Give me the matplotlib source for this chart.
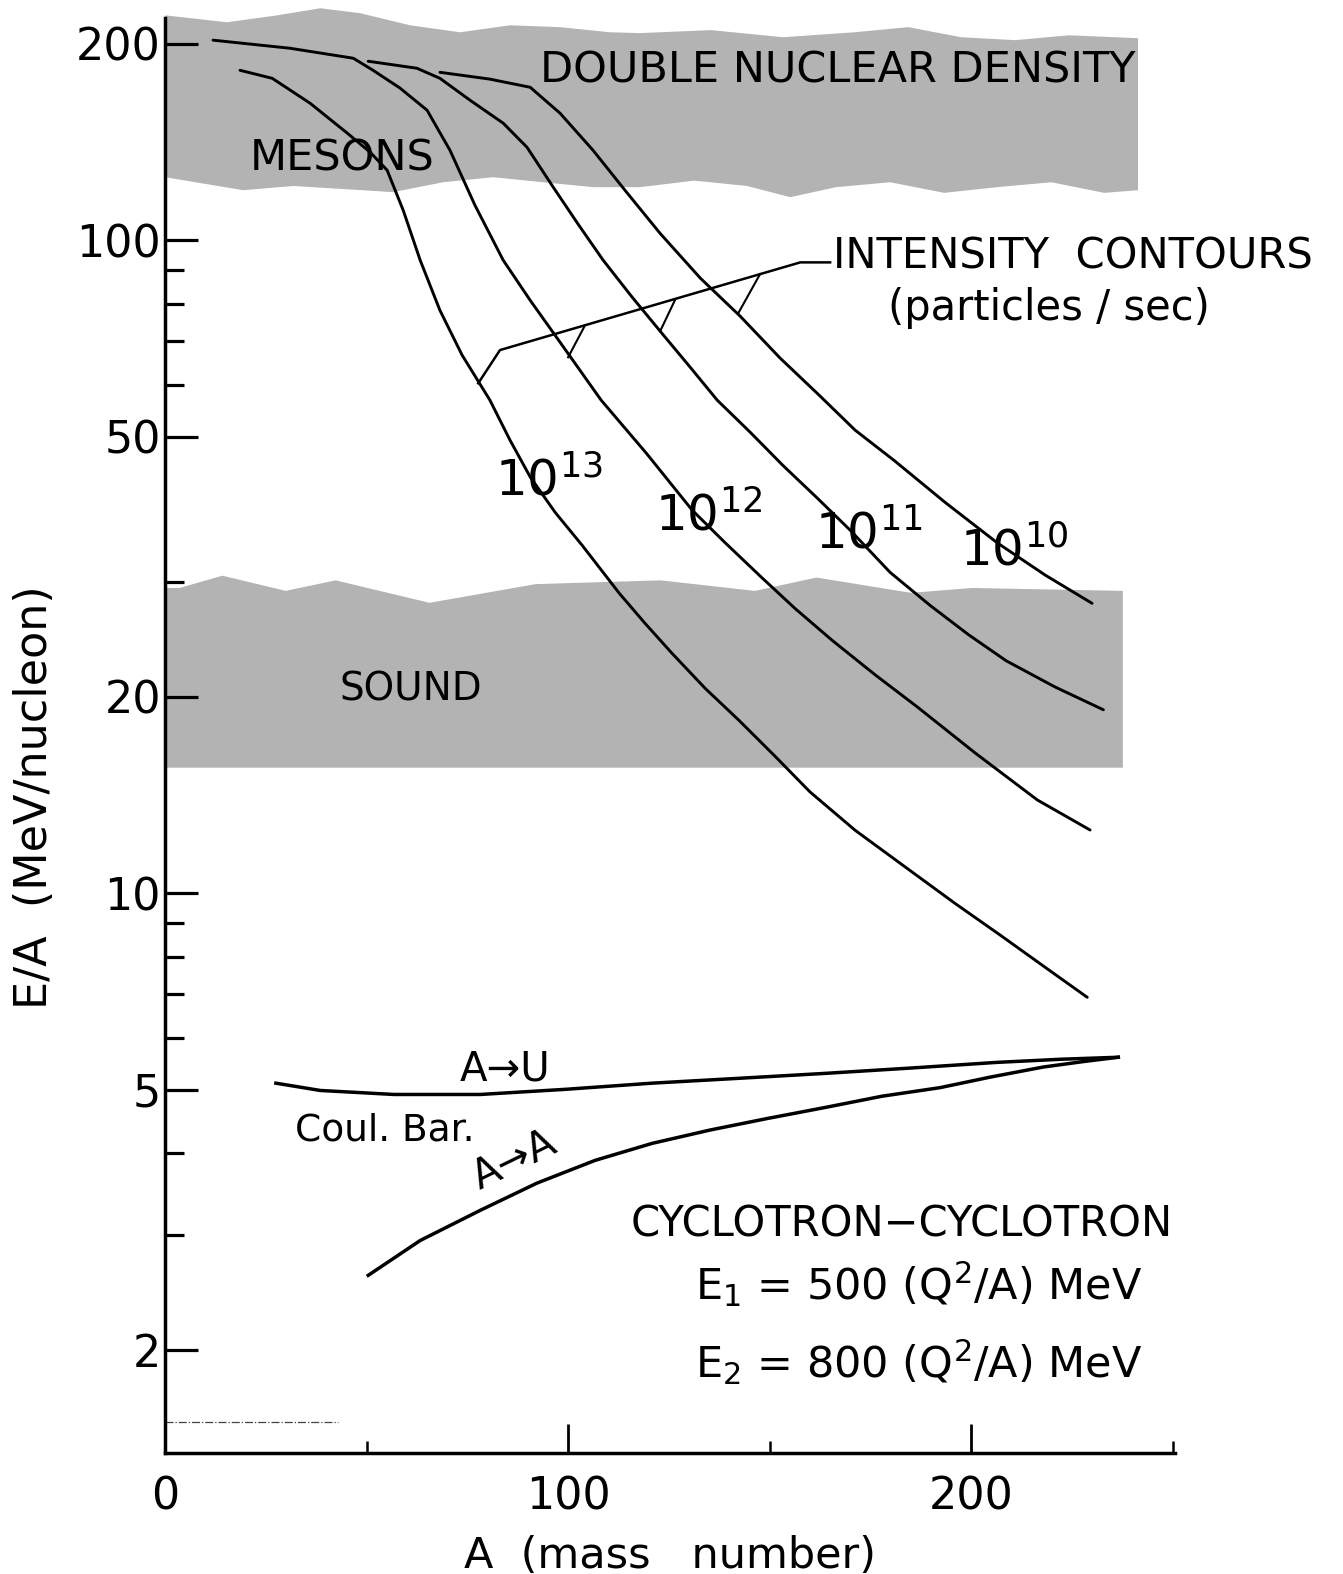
import matplotlib

matplotlib.use("Agg")
import matplotlib.pyplot as plt

plt.rcParams["font.family"] = ["DejaVu Sans"]
plt.rcParams["mathtext.fontset"] = "dejavusans"

# intensity contours, A (mass number) vs E/A (MeV/nucleon)
C13_A = [18.6, 26.6, 36.0, 45.2, 50.9, 55.1, 59.1, 63.3, 68.2, 73.7, 80.6, 85.6, 90.6, 96.8, 103.5,
         112.7, 119.1, 125.8, 134.0, 142.4, 151.4, 160.0, 171.2, 184.1, 196.0, 207.2, 218.4, 228.8]
C13_E = [182.1, 177.0, 162.1, 145.9, 136.4, 128.0, 111.1, 93.2, 78.1, 66.7, 56.9, 49.4, 43.4, 38.3, 34.1,
         28.8, 25.9, 23.3, 20.6, 18.4, 16.2, 14.3, 12.49, 10.92, 9.65, 8.63, 7.70, 6.93]

C12_A = [11.9, 31.0, 46.7, 51.6, 58.3, 65.0, 70.7, 76.9, 83.9, 90.6, 98.0, 108.2, 119.4, 130.8, 139.0,
         147.9, 156.3, 165.5, 176.2, 186.6, 201.0, 216.4, 229.5]
C12_E = [202.5, 196.8, 190.0, 182.1, 171.0, 158.2, 137.3, 113.1, 93.2, 80.9, 69.8, 56.9, 47.2, 38.6, 34.4,
         30.5, 27.3, 24.4, 21.6, 19.3, 16.4, 13.9, 12.5]

C11_A = [50.4, 62.5, 68.2, 75.7, 83.9, 89.8, 96.3, 102.5, 108.7, 115.9, 123.3, 130.3, 137.0, 145.2, 153.3,
         161.8, 170.0, 179.9, 189.8, 199.3, 208.7, 220.8, 232.8]
C11_E = [188.0, 183.4, 177.0, 163.8, 151.1, 138.8, 120.6, 105.8, 93.2, 81.8, 72.0, 63.9, 56.9, 50.8, 45.2,
         40.3, 35.97, 31.0, 27.6, 24.9, 22.7, 20.7, 19.1]

C10_A = [68.2, 80.6, 90.6, 98.0, 106.2, 114.1, 122.8, 132.8, 142.7, 152.6, 162.3, 171.2, 180.9, 193.5,
         206.5, 218.4, 230.0]
C10_E = [180.8, 176.5, 171.5, 156.5, 137.3, 119.3, 102.5, 87.5, 76.5, 66.0, 57.9, 51.2, 46.0, 39.7,
         34.4, 30.7, 27.8]

CONTOURS = [
    (C13_A, C13_E, "13", 81.9, 40.7),
    (C12_A, C12_E, "12", 121.6, 35.97),
    (C11_A, C11_E, "11", 161.3, 33.75),
    (C10_A, C10_E, "10", 197.3, 31.8),
]

# Coulomb barrier
AU_A = [27.5, 38.5, 56.8, 78.2, 99.3, 120.8, 142.7, 163.8, 184.9, 206.5, 222.1, 236.5]
AU_E = [5.12, 4.99, 4.92, 4.92, 5.01, 5.12, 5.21, 5.30, 5.40, 5.51, 5.57, 5.61]
AA_A = [50.4, 63.3, 78.2, 92.3, 106.7, 120.8, 135.2, 149.4, 163.8, 177.9, 192.3, 204.7, 217.9, 228.3, 236.5]
AA_E = [2.60, 2.94, 3.27, 3.60, 3.90, 4.14, 4.34, 4.52, 4.70, 4.89, 5.04, 5.23, 5.42, 5.53, 5.61]

# shaded regions
DND_TOP_A = [0, 15.4, 27.8, 38.5, 48.4, 60.8, 73.2, 85.6, 98.0, 110.4, 117.9, 135.5, 153.3, 171.0,
             184.4, 197.5, 210.9, 224.3, 241.4]
DND_TOP_E = [221, 215.7, 221, 226.6, 222.7, 213.4, 208.2, 213.4, 212.0, 208.2, 207.6, 209.8, 204.6,
             208.2, 212.0, 204.6, 202.5, 206.0, 203.9]
DND_BOT_A = [0, 19.4, 31.8, 56.6, 69.0, 81.4, 93.8, 106.2, 117.9, 131.3, 144.4, 155.1, 166.5, 179.9,
             193.3, 206.5, 219.9, 233.0, 241.4]
DND_BOT_E = [124.9, 119.3, 121.1, 118.5, 122.7, 124.9, 122.7, 120.6, 120.6, 123.4, 121.1, 116.4, 120.6,
             122.7, 118.2, 120.6, 122.7, 118.2, 119.3]

SOUND_A = [0, 3.5, 14.1, 29.8, 42.2, 65.5, 91.8, 122.8, 146.2, 161.5, 184.9, 200.2, 237.5]
SOUND_TOP = [29.4, 29.4, 30.7, 29.1, 30.2, 27.9, 29.8, 30.2, 29.1, 30.5, 28.9, 29.4, 29.1]
SOUND_BOTTOM = 15.6

# pointer from the "INTENSITY CONTOURS" label
POINTER_A = [77.7, 83.1, 157.6, 165.0]
POINTER_E = [60.4, 67.9, 92.5, 92.5]
BRANCHES = [
    ([147.6, 142.2], [88.7, 77.3]),
    ([126.6, 122.8], [81.2, 72.5]),
    ([104.2, 100.0], [74.1, 66.2]),
]

Y_MAJOR = [2, 5, 10, 20, 50, 100, 200]
Y_MINOR = [3, 4, 6, 7, 8, 9, 30, 60, 70, 80, 90]
X_MAJOR = [0, 100, 200]
X_MINOR = [50, 150, 250]

BAND = "#b3b3b3"


def main() -> None:
    fig = plt.figure(figsize=(13.43, 15.74), dpi=100)
    ax = fig.add_axes([0.1229, 0.0769, 0.7521, 0.9117])

    ax.set_yscale("log")
    ax.set_xlim(0, 250.6)
    ax.set_ylim(1.39, 219)

    dnd_x = DND_TOP_A + DND_BOT_A[::-1]
    dnd_y = DND_TOP_E + DND_BOT_E[::-1]
    ax.fill(dnd_x, dnd_y, color=BAND, lw=0, clip_on=False, zorder=1)
    ax.fill_between(SOUND_A, SOUND_BOTTOM, SOUND_TOP, color=BAND, lw=0, zorder=1)

    for a, e, exp, lx, ly in CONTOURS:
        ax.plot(a, e, color="black", lw=2.1, solid_capstyle="round", solid_joinstyle="round", zorder=3)
        ax.text(lx, ly, "$10^{%s}$" % exp, fontsize=36, ha="left", va="baseline", zorder=4)

    ax.plot(AU_A, AU_E, color="black", lw=2.5, solid_joinstyle="round", zorder=3)
    ax.plot(AA_A, AA_E, color="black", lw=2.5, solid_joinstyle="round", zorder=3)

    ax.plot(POINTER_A, POINTER_E, color="black", lw=1.8, zorder=3)
    for a, e in BRANCHES:
        ax.plot(a, e, color="black", lw=1.5, zorder=3)

    ax.plot([0, 43], [1.55, 1.55], color="#444444", lw=0.9, ls="-.", zorder=2)

    ax.text(93.1, 174.6, "DOUBLE NUCLEAR DENSITY", fontsize=31, va="baseline", zorder=4)
    ax.text(21.1, 128.0, "MESONS", fontsize=31, va="baseline", zorder=4)
    ax.text(43.4, 19.75, "SOUND", fontsize=28, va="baseline", zorder=4)
    ax.text(165.8, 90.6, "INTENSITY  CONTOURS", fontsize=30, va="baseline")
    ax.text(179.4, 75.4, "(particles / sec)", fontsize=30, va="baseline")
    ax.text(73.2, 5.17, "A\u2192U", fontsize=29, va="baseline")
    ax.text(32.3, 4.19, "Coul. Bar.", fontsize=27, va="baseline")
    ax.text(86.8, 3.9, "A\u2192A", fontsize=29, rotation=26, ha="center", va="center",
            rotation_mode="anchor")
    ax.text(115.4, 2.98, "CYCLOTRON\u2212CYCLOTRON", fontsize=30, va="baseline")
    ax.text(131.5, 2.38, r"E$_{1}$ = 500 (Q$^{2}$/A) MeV", fontsize=31, va="baseline")
    ax.text(131.5, 1.81, r"E$_{2}$ = 800 (Q$^{2}$/A) MeV", fontsize=31, va="baseline")

    for side in ("top", "right"):
        ax.spines[side].set_visible(False)
    for side in ("left", "bottom"):
        ax.spines[side].set_linewidth(2.5)

    ax.set_yticks(Y_MAJOR)
    ax.set_yticklabels([str(v) for v in Y_MAJOR])
    ax.set_yticks(Y_MINOR, minor=True)
    ax.set_yticklabels([], minor=True)
    ax.set_xticks(X_MAJOR)
    ax.set_xticklabels([str(v) for v in X_MAJOR])
    ax.set_xticks(X_MINOR, minor=True)

    ax.tick_params(axis="y", which="major", direction="in", length=24, width=2.3, labelsize=32, pad=3)
    ax.tick_params(axis="y", which="minor", direction="in", length=14, width=2.3)
    ax.tick_params(axis="x", which="major", direction="in", length=21, width=2.0, labelsize=32, pad=16)
    ax.tick_params(axis="x", which="minor", direction="in", length=9, width=1.8)

    ax.set_xlabel("A  (mass   number)", fontsize=31, labelpad=12)
    fig.text(0.026, 1 - 797 / 1574, "E/A  (MeV/nucleon)", fontsize=32, rotation=90,
             ha="center", va="center")

    fig.savefig("out.png", dpi=100, facecolor="white")
    plt.close(fig)


if __name__ == "__main__":
    main()
